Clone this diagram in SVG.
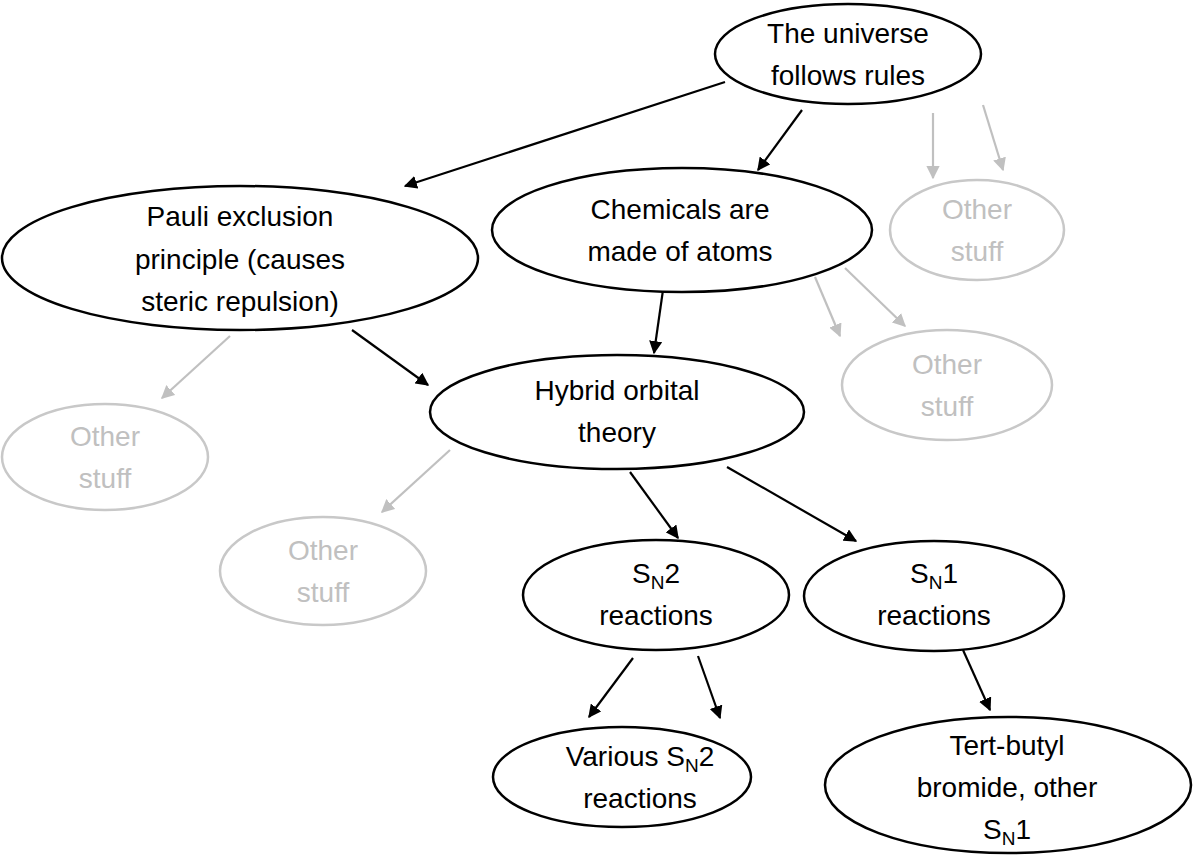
<svg xmlns="http://www.w3.org/2000/svg" width="1195" height="857" viewBox="0 0 1195 857">
<style>
.n{fill:#fff;stroke:#000;stroke-width:2.5}
.g{fill:#fff;stroke:#c8c8c8;stroke-width:2.5}
text{font-family:"Liberation Sans",Arial,sans-serif;font-size:28px;text-anchor:middle}
.gt{fill:#c0c0c0}
.c line{stroke:#000;stroke-width:2.2;marker-end:url(#a)}
.c line.gl{stroke:#c0c0c0;marker-end:url(#ag)}
</style>
<defs>
<marker id="a" viewBox="0 0 10 10" refX="9" refY="5" markerWidth="6" markerHeight="6" orient="auto"><path d="M0,0L10,5L0,10z" fill="#000"/></marker>
<marker id="ag" viewBox="0 0 10 10" refX="9" refY="5" markerWidth="6" markerHeight="6" orient="auto"><path d="M0,0L10,5L0,10z" fill="#c0c0c0"/></marker>
</defs>
<rect width="1195" height="857" fill="#fff"/>
<g class="c">
<line x1="725" y1="82" x2="405" y2="186"/>
<line x1="802" y1="110" x2="758" y2="170"/>
<line class="gl" x1="933" y1="113" x2="933" y2="178"/>
<line class="gl" x1="983" y1="105" x2="1003" y2="170"/>
<line x1="663" y1="290" x2="654" y2="353"/>
<line x1="352" y1="330" x2="428" y2="385"/>
<line class="gl" x1="230" y1="336" x2="162" y2="398"/>
<line class="gl" x1="815" y1="277" x2="840" y2="336"/>
<line class="gl" x1="845" y1="268" x2="905" y2="326"/>
<line class="gl" x1="450" y1="450" x2="382" y2="512"/>
<line x1="630" y1="472" x2="678" y2="538"/>
<line x1="727" y1="467" x2="856" y2="541"/>
<line x1="633" y1="658" x2="589" y2="717"/>
<line x1="698" y1="656" x2="720" y2="718"/>
<line x1="963" y1="650" x2="990" y2="710"/>
</g>
<g id="universe"><ellipse class="n" cx="848" cy="54" rx="133" ry="50"/><text x="848" y="43">The universe</text><text x="848" y="85">follows rules</text></g>
<g id="pauli"><ellipse class="n" cx="240" cy="258" rx="238" ry="72"/><text x="240" y="226">Pauli exclusion</text><text x="240" y="269">principle (causes</text><text x="240" y="311">steric repulsion)</text></g>
<g id="chem"><ellipse class="n" cx="682" cy="230" rx="190" ry="62"/><text x="680" y="219">Chemicals are</text><text x="680" y="261">made of atoms</text></g>
<g id="other1"><ellipse class="g" cx="977" cy="230" rx="87" ry="50"/><text class="gt" x="977" y="219">Other</text><text class="gt" x="977" y="261">stuff</text></g>
<g id="other2"><ellipse class="g" cx="947" cy="385" rx="105" ry="55"/><text class="gt" x="947" y="374">Other</text><text class="gt" x="947" y="416">stuff</text></g>
<g id="hybrid"><ellipse class="n" cx="617" cy="412" rx="187" ry="57"/><text x="617" y="400">Hybrid orbital</text><text x="617" y="442">theory</text></g>
<g id="other3"><ellipse class="g" cx="105" cy="457" rx="103" ry="53"/><text class="gt" x="105" y="446">Other</text><text class="gt" x="105" y="488">stuff</text></g>
<g id="other4"><ellipse class="g" cx="323" cy="571" rx="103" ry="54"/><text class="gt" x="323" y="560">Other</text><text class="gt" x="323" y="602">stuff</text></g>
<g id="sn2"><ellipse class="n" cx="656" cy="595" rx="133" ry="55"/><text x="656" y="583">S<tspan font-size="19" dy="6">N</tspan><tspan dy="-6">2</tspan></text><text x="656" y="625">reactions</text></g>
<g id="sn1"><ellipse class="n" cx="934" cy="596" rx="130" ry="55"/><text x="934" y="583">S<tspan font-size="19" dy="6">N</tspan><tspan dy="-6">1</tspan></text><text x="934" y="625">reactions</text></g>
<g id="various"><ellipse class="n" cx="622" cy="777" rx="129" ry="50"/><text x="640" y="766">Various S<tspan font-size="19" dy="6">N</tspan><tspan dy="-6">2</tspan></text><text x="640" y="808">reactions</text></g>
<g id="tert"><ellipse class="n" cx="1008" cy="785" rx="183" ry="68"/><text x="1007" y="755">Tert-butyl</text><text x="1007" y="797">bromide, other</text><text x="1007" y="839">S<tspan font-size="19" dy="6">N</tspan><tspan dy="-6">1</tspan></text></g>
</svg>
